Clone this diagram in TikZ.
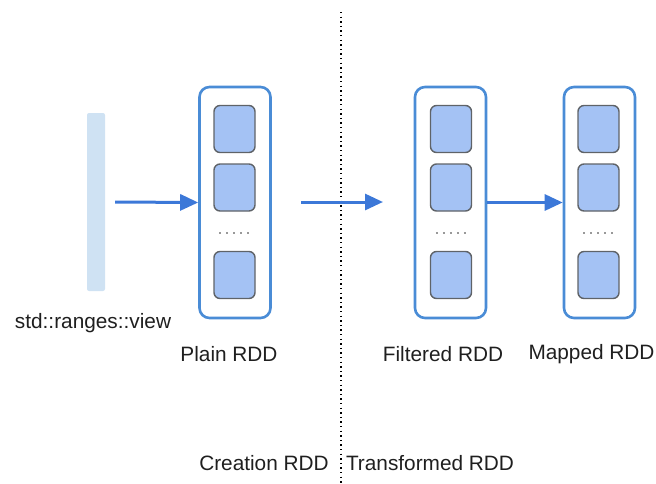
\documentclass[tikz,border=0pt]{standalone}
\usepackage{fontspec}
\setmainfont{Liberation Sans}
\usetikzlibrary{arrows.meta}
\definecolor{cblue}{HTML}{4A8CD6}
\definecolor{ablue}{HTML}{3C78D8}
\definecolor{cfill}{HTML}{A4C2F4}
\definecolor{cedge}{HTML}{5F6368}
\definecolor{barblue}{HTML}{CFE2F3}
\definecolor{txt}{HTML}{1F1F1F}
\tikzset{
  container/.style={draw=cblue, line width=2.6pt, rounded corners=10pt, minimum width=71pt, minimum height=231pt, inner sep=0pt},
  cell/.style={draw=cedge, line width=1.4pt, fill=cfill, rounded corners=6pt, minimum width=41pt, minimum height=47pt, inner sep=0pt},
  dotsnode/.style={minimum width=30pt, minimum height=2pt, inner sep=0pt},
  flow/.style={draw=ablue, line width=3pt, -{Triangle[length=18pt,width=16pt]}},
  lbl/.style={text=txt, font=\fontsize{20.8pt}{24pt}\selectfont, inner sep=0pt},
  sep/.style={draw=black, line width=1.5pt, dash pattern=on 1.4pt off 3.2pt},
}
\begin{document}
\begin{tikzpicture}[x=1pt,y=-1pt]
\useasboundingbox (0,0) rectangle (656,483);
% source bar
\node[fill=barblue, rounded corners=2pt, minimum width=18pt, minimum height=178pt, inner sep=0pt] (bar) at (96,202) {};
% containers
\node[container] (plain) at (235,202.5) {};
\node[container] (filt) at (450.5,202.5) {};
\node[container] (mapd) at (599.5,202.5) {};
% cells
\foreach \n/\x in {p/234.5, f/451, m/598.5}{
  \node[cell] (\n1) at (\x,129) {};
  \node[cell] (\n2) at (\x,187.5) {};
  \node[cell] (\n3) at (\x,275) {};
  \node[dotsnode] (\n d) at (\x,233) {};
  \draw[draw=gray!80, line width=1.8pt, dash pattern=on 2pt off 5pt] (\n d.west) -- (\n d.east);
}
% separator
\coordinate (septop) at (341,12);
\coordinate (sepbot) at (341,483);
\draw[sep] (septop) -- (sepbot);
% arrows
\draw[flow] ([xshift=10pt]bar.east) -- (plain.west);
\coordinate (a2s) at (301,202);
\coordinate (a2e) at (383,202);
\draw[flow] (a2s) -- (a2e);
\draw[flow] (filt.east) -- (mapd.west);
% labels
\node[lbl] (tview) at (93,323) {std::ranges::view};
\node[lbl] (tplain) at (229,354) {Plain RDD};
\node[lbl] (tfilt) at (443,354) {Filtered RDD};
\node[lbl] (tmap) at (591.5,354) {Mapped RDD};
\node[lbl] (tcre) at (264,463) {Creation RDD};
\node[lbl] (ttra) at (430,463) {Transformed RDD};
\end{tikzpicture}
\end{document}
